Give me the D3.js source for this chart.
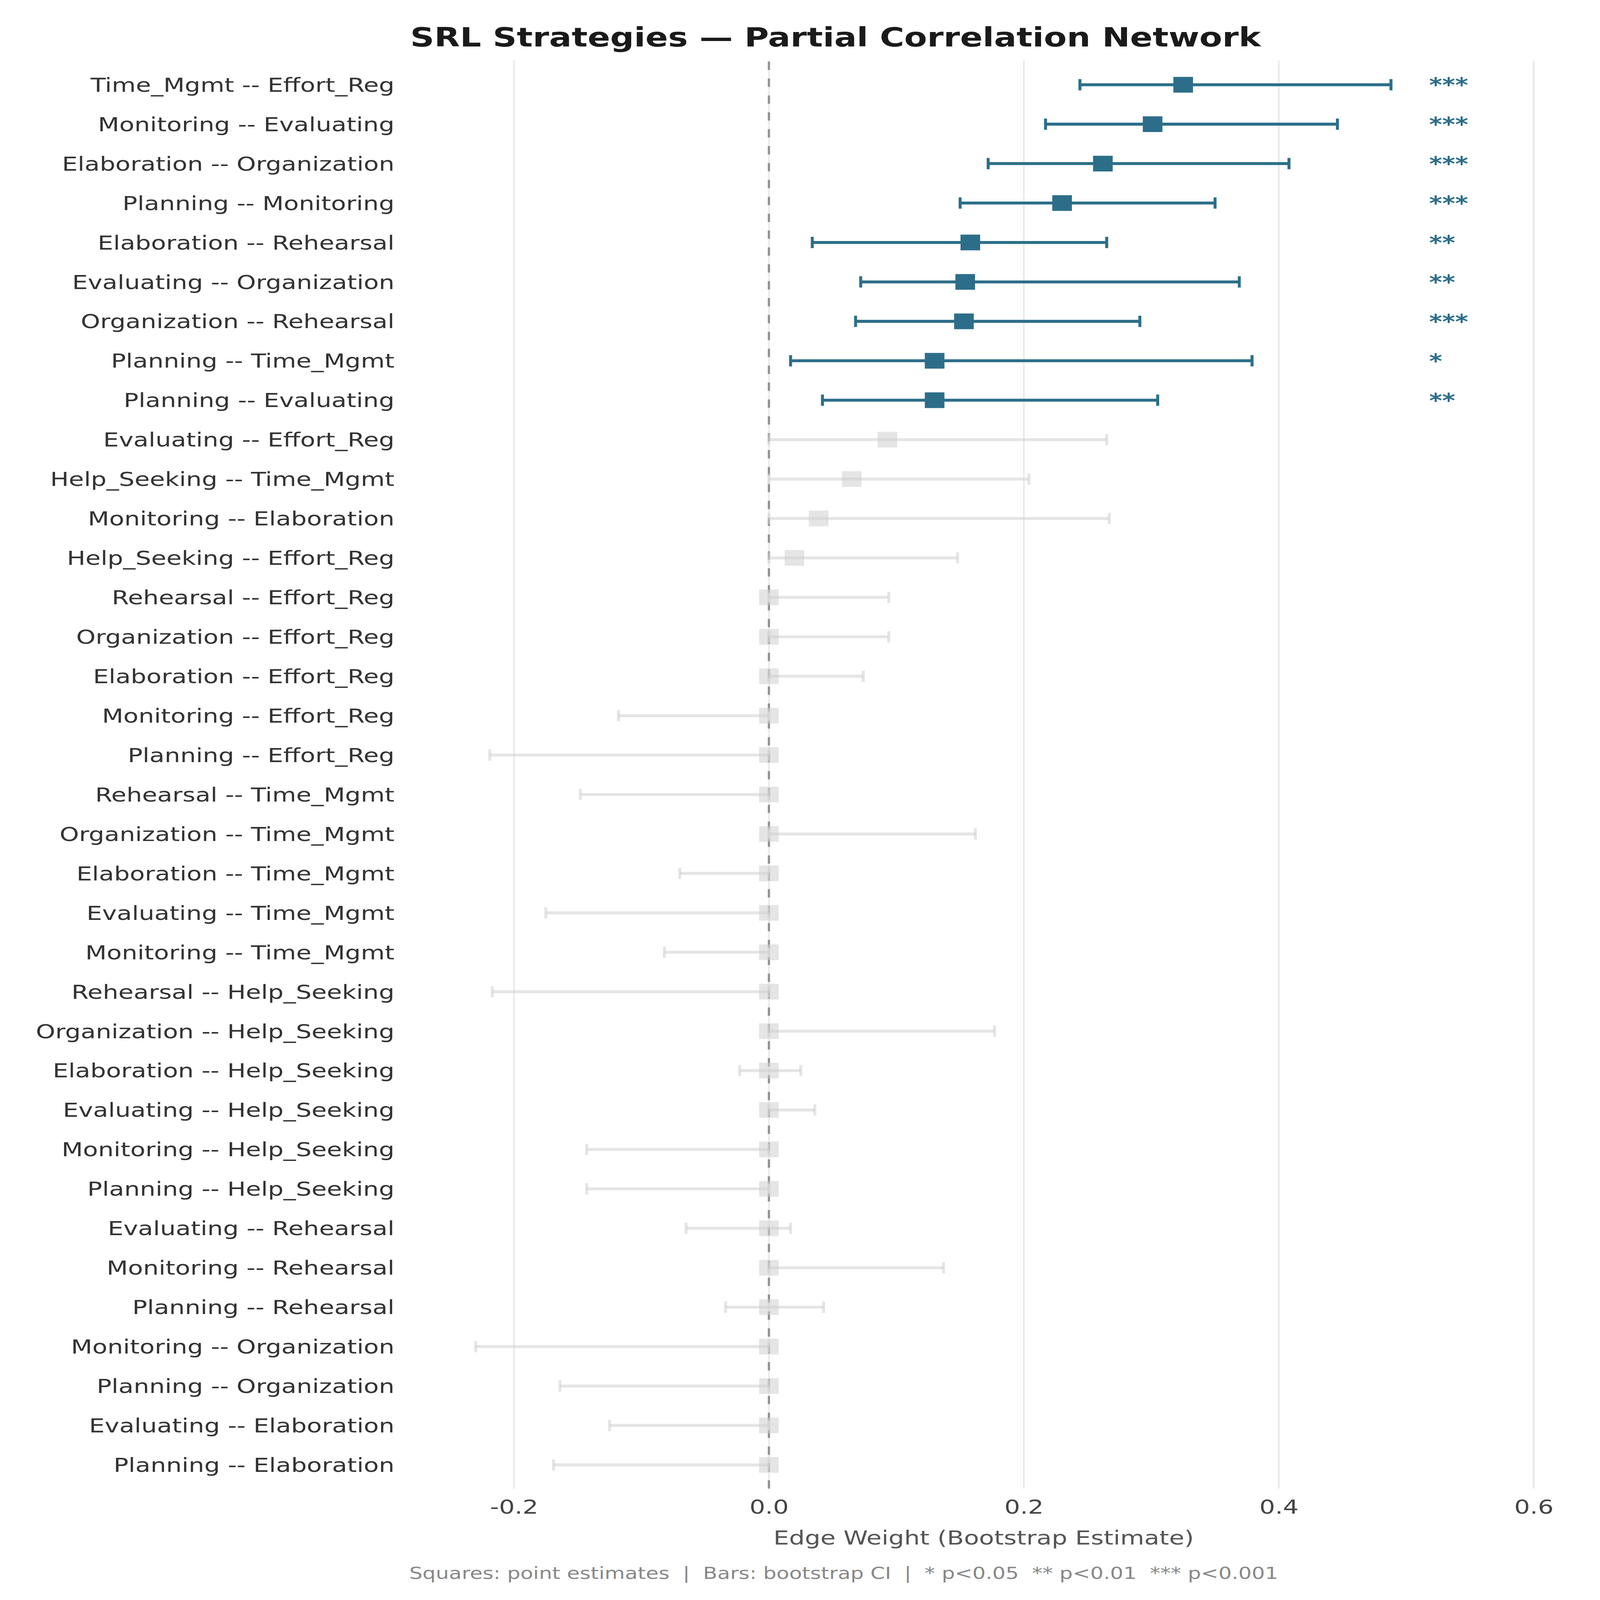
<!DOCTYPE html>
<html>
<head>
<meta charset="utf-8">
<script src="https://cdn.jsdelivr.net/npm/d3@7"></script>
<style>
  html, body { margin: 0; padding: 0; background: #fff; overflow: hidden; }
  svg { display: block; width: 100vw; height: 100vh; font-family: "DejaVu Sans", sans-serif; }
</style>
</head>
<body>
<div id="chart"></div>
<script>
// --- Data: edges sorted as in the plot (top to bottom) ---
const edges = [
  "Time_Mgmt -- Effort_Reg", "Monitoring -- Evaluating", "Elaboration -- Organization",
  "Planning -- Monitoring", "Elaboration -- Rehearsal", "Evaluating -- Organization",
  "Organization -- Rehearsal", "Planning -- Time_Mgmt", "Planning -- Evaluating",
  "Evaluating -- Effort_Reg", "Help_Seeking -- Time_Mgmt", "Monitoring -- Elaboration",
  "Help_Seeking -- Effort_Reg", "Rehearsal -- Effort_Reg", "Organization -- Effort_Reg",
  "Elaboration -- Effort_Reg", "Monitoring -- Effort_Reg", "Planning -- Effort_Reg",
  "Rehearsal -- Time_Mgmt", "Organization -- Time_Mgmt", "Elaboration -- Time_Mgmt",
  "Evaluating -- Time_Mgmt", "Monitoring -- Time_Mgmt", "Rehearsal -- Help_Seeking",
  "Organization -- Help_Seeking", "Elaboration -- Help_Seeking", "Evaluating -- Help_Seeking",
  "Monitoring -- Help_Seeking", "Planning -- Help_Seeking", "Evaluating -- Rehearsal",
  "Monitoring -- Rehearsal", "Planning -- Rehearsal", "Monitoring -- Organization",
  "Planning -- Organization", "Evaluating -- Elaboration", "Planning -- Elaboration"
];
const estimate = [
  0.325, 0.301, 0.262, 0.230, 0.158, 0.154, 0.153, 0.130, 0.130,
  0.093, 0.065, 0.039, 0.020, 0, 0, 0, 0, 0,
  0, 0, 0, 0, 0, 0, 0, 0, 0,
  0, 0, 0, 0, 0, 0, 0, 0, 0
];
const ciLow = [
  0.244, 0.217, 0.172, 0.150, 0.034, 0.072, 0.068, 0.017, 0.042,
  0, 0, 0, 0, 0, 0, 0, -0.118, -0.219,
  -0.148, 0, -0.070, -0.175, -0.082, -0.217, 0, -0.023, 0,
  -0.143, -0.143, -0.065, 0, -0.034, -0.230, -0.164, -0.125, -0.169
];
const ciHigh = [
  0.488, 0.446, 0.408, 0.350, 0.265, 0.369, 0.291, 0.379, 0.305,
  0.265, 0.204, 0.267, 0.148, 0.094, 0.094, 0.074, 0, 0,
  0, 0.162, 0, 0, 0, 0, 0.177, 0.025, 0.036,
  0, 0, 0.017, 0.137, 0.043, 0, 0, 0, 0
];
const stars = [
  "***", "***", "***", "***", "**", "**", "***", "*", "**",
  "", "", "", "", "", "", "", "", "",
  "", "", "", "", "", "", "", "", "",
  "", "", "", "", "", "", "", "", ""
];
const xTicks = [-0.2, 0.0, 0.2, 0.4, 0.6];

const titleText = "SRL Strategies \u2014 Partial Correlation Network";
const xLabelText = "Edge Weight (Bootstrap Estimate)";
const footerText = "Squares: point estimates  |  Bars: bootstrap CI  |  * p<0.05  ** p<0.01  *** p<0.001";

const rows = edges.map((e, i) => ({
  edge: e, est: estimate[i], lo: ciLow[i], hi: ciHigh[i], sig: stars[i]
}));

// --- Layout (drawn in a 4320x5400 viewBox so it always fits the window) ---
const W = 4320, H = 5400;
const plot = { left: 1078, right: 4234, top: 204, bottom: 5024 };
const teal = "#2c6e8a";
const grey = "#d0d0d0";

const svg = d3.select("#chart").append("svg")
  .attr("viewBox", `0 0 ${W} ${H}`)
  .attr("preserveAspectRatio", "none");
svg.append("rect").attr("width", W).attr("height", H).attr("fill", "#fff");

const x = d3.scaleLinear().domain([-0.29, 0.627]).range([plot.left, plot.right]);
const y = d3.scalePoint().domain(edges).range([286, 4944]);

// Vertical gridlines
svg.append("g").selectAll("line").data(xTicks).join("line")
  .attr("x1", d => x(d)).attr("x2", d => x(d))
  .attr("y1", plot.top).attr("y2", plot.bottom)
  .attr("stroke", "#ebebeb").attr("stroke-width", 5);

// Zero reference line (dashed), drawn from bottom up
svg.append("line")
  .attr("x1", x(0)).attr("x2", x(0))
  .attr("y1", plot.bottom).attr("y2", plot.top)
  .attr("stroke", "#919191").attr("stroke-width", 6)
  .attr("stroke-dasharray", "28,29");

// Error bars + caps + squares (non-significant ones semi-transparent grey)
const capH = 38, sq = 53;
const g = svg.append("g").selectAll("g").data(rows).join("g");

g.each(function (d) {
  const el = d3.select(this);
  const c = d.sig ? teal : grey;
  const a = d.sig ? 1 : 0.55;
  const yy = y(d.edge);
  el.append("line")
    .attr("x1", x(d.lo)).attr("x2", x(d.hi))
    .attr("y1", yy).attr("y2", yy)
    .attr("stroke", c).attr("stroke-opacity", a).attr("stroke-width", 10);
  [d.lo, d.hi].forEach(v => {
    el.append("line")
      .attr("x1", x(v)).attr("x2", x(v))
      .attr("y1", yy - capH / 2).attr("y2", yy + capH / 2)
      .attr("stroke", c).attr("stroke-opacity", a).attr("stroke-width", 8);
  });
  el.append("rect")
    .attr("x", x(d.est) - sq / 2).attr("y", yy - sq / 2)
    .attr("width", sq).attr("height", sq)
    .attr("fill", c).attr("fill-opacity", a);
});

// Significance stars
svg.append("g").selectAll("text").data(rows.filter(d => d.sig)).join("text")
  .attr("x", x(0.518))
  .attr("y", d => y(d.edge) + 24)
  .attr("font-size", 67).attr("font-weight", "bold")
  .attr("fill", teal)
  .text(d => d.sig);

// Y axis labels
const yAxis = svg.append("g")
  .attr("transform", `translate(${plot.left},0)`)
  .call(d3.axisLeft(y).tickSize(0).tickPadding(13));
yAxis.select(".domain").remove();
yAxis.selectAll("text")
  .attr("font-family", "DejaVu Sans").attr("font-size", 66.7)
  .attr("fill", "#333").attr("dy", "0.345em");

// X axis labels (plain hyphen for negatives, as in the reference)
const xAxis = svg.append("g")
  .attr("transform", `translate(0,${plot.bottom})`)
  .call(d3.axisBottom(x).tickValues(xTicks).tickFormat(d => d.toFixed(1)).tickSize(0));
xAxis.select(".domain").remove();
xAxis.selectAll("text")
  .attr("font-family", "DejaVu Sans").attr("font-size", 66.7)
  .attr("fill", "#444").attr("y", 84).attr("dy", 0);

// X axis title
svg.append("text")
  .attr("x", (plot.left + plot.right) / 2).attr("y", 5213)
  .attr("text-anchor", "middle")
  .attr("font-size", 66.7).attr("fill", "#555")
  .text(xLabelText);

// Title
svg.append("text")
  .attr("x", 2256).attr("y", 157)
  .attr("text-anchor", "middle")
  .attr("font-size", 90).attr("font-weight", "bold").attr("fill", "#1a1a1a")
  .text(titleText);

// Footer note
svg.append("text")
  .attr("x", 2278).attr("y", 5329)
  .attr("text-anchor", "middle")
  .style("white-space", "pre")
  .attr("font-size", 56.3).attr("fill", "#888")
  .text(footerText);
</script>
</body>
</html>
